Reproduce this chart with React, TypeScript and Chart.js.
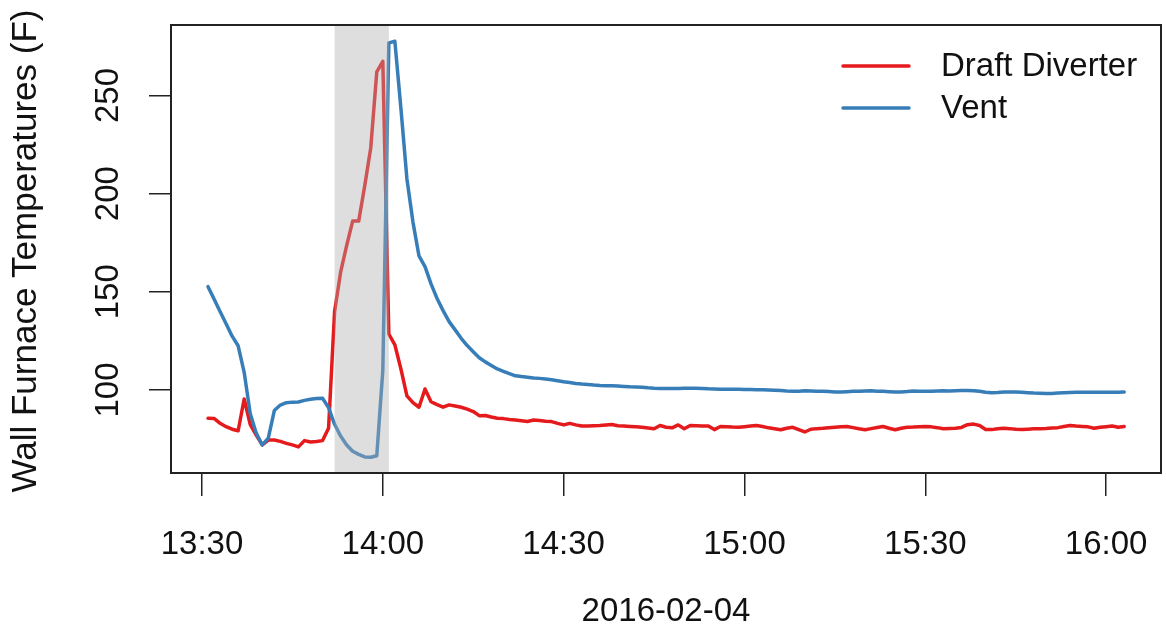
import React, { useEffect, useRef } from "react";
import { Chart, registerables } from "chart.js";

Chart.register(...registerables);

// ---------- data ----------
const seriesLabels: string[] = ["Draft Diverter", "Vent"];
const seriesColors: string[] = ["#E41A1C", "#377EB8"];
const xTickLabels: string[] = ["13:30", "14:00", "14:30", "15:00", "15:30", "16:00"];
const yTickValues: number[] = [100, 150, 200, 250];
const xTitle = "2016-02-04";
const yTitle = "Wall Furnace Temperatures (F)";
const shadeStart = "13:52";
const shadeEnd = "14:01";
const firstSample = "13:31"; // one reading per minute
const sampleStepMin = 1;

const draftDiverter: number[] = [
  85.6, 85.5, 83, 81.3, 80, 79.2, 95.4, 82.5, 77, 72,
  74.5, 74.5, 73.8, 72.8, 72, 71, 74.2, 73.5, 73.7, 74.2,
  80.5, 140, 160, 173.5, 186, 186, 204, 223.4, 262, 267.4,
  128.5, 123, 110.7, 97, 93.5, 91.2, 100.5, 94, 92.5, 91.2,
  92.4, 91.8, 91.2, 90.2, 89, 86.9, 87, 86.2, 85.6, 85.4,
  85, 84.7, 84.3, 83.9, 84.7, 84.4, 84.1, 83.9, 83, 82.2,
  83, 82.2, 81.6, 81.6, 81.8, 81.9, 82.2, 82.4, 81.8, 81.6,
  81.4, 81.2, 81, 80.6, 80.2, 81.9, 81, 80.7, 82.2, 80.2,
  81.9, 81.8, 81.7, 81.6, 79.8, 81.4, 81.3, 81.1, 81, 81.3,
  81.6, 81.9, 81.4, 80.7, 80.2, 79.7, 80.5, 81, 79.8, 78.6,
  80, 80.3, 80.5, 80.8, 81, 81.2, 81.4, 80.8, 80.2, 79.7,
  80.3, 80.9, 81.4, 80.5, 79.7, 80.5, 81, 81.1, 81.3, 81.4,
  81.2, 80.8, 80.2, 80.4, 80.5, 80.9, 82.3, 82.6, 81.9, 79.9,
  79.8, 80.2, 80.5, 80.3, 80, 79.8, 80, 80.2, 80.3, 80.4,
  80.6, 80.8, 81.4, 81.9, 81.6, 81.4, 81.2, 80.5, 81, 81.3,
  81.6, 81, 81.4,
];

const vent: number[] = [
  152.6, 146.3, 140, 133.7, 127.4, 122.5, 109, 88, 78, 72,
  75.5, 89.5, 92.3, 93.5, 93.8, 93.9, 94.7, 95.3, 95.6, 95.8,
  91, 82.5, 76.5, 72, 68.8, 67.2, 65.9, 65.7, 66.5, 110,
  276.8, 277.6, 243.5, 207.5, 185.5, 168.3, 162.8, 154, 146.6, 140.4,
  134.8, 130.6, 126.3, 122.6, 119.5, 116.4, 114.3, 112.5, 110.7, 109.5,
  108.3, 107.2, 106.8, 106.5, 106.1, 105.9, 105.6, 105.2, 104.7, 104.2,
  103.8, 103.3, 103, 102.8, 102.5, 102.3, 102.2, 102.2, 102, 101.8,
  101.6, 101.5, 101.4, 101.1, 100.9, 100.8, 100.8, 100.7, 100.8, 100.9,
  100.9, 100.9, 100.8, 100.6, 100.5, 100.4, 100.4, 100.3, 100.3, 100.2,
  100.2, 100.1, 100.1, 100, 99.9, 99.7, 99.5, 99.4, 99.4, 99.6,
  99.5, 99.4, 99.3, 99.2, 99, 98.9, 99.1, 99.3, 99.4, 99.5,
  99.6, 99.4, 99.3, 99.1, 98.9, 99, 99.2, 99.5, 99.4, 99.3,
  99.4, 99.5, 99.6, 99.5, 99.6, 99.7, 99.7, 99.6, 99.3, 98.8,
  98.6, 98.7, 98.9, 99, 98.9, 98.8, 98.6, 98.4, 98.3, 98.2,
  98.2, 98.4, 98.6, 98.7, 98.8, 98.8, 98.8, 98.8, 98.8, 98.8,
  98.8, 98.8, 98.9,
];

// ---------- helpers ----------
const FONT = "'Liberation Sans', Arial, Helvetica, sans-serif";
const TEXT = "#111";

function toMin(s: string): number {
  const [h, m] = s.split(":").map(Number);
  return h * 60 + m;
}
function fmt(m: number): string {
  const h = Math.floor(m / 60);
  const mm = Math.round(m - h * 60);
  return `${h}:${String(mm).padStart(2, "0")}`;
}

const decor = {
  id: "decor",
  afterDatasetsDraw(chart: any) {
    const { ctx, chartArea: a } = chart;
    const x = chart.scales.x;
    const x0 = x.getPixelForValue(toMin(shadeStart));
    const x1 = x.getPixelForValue(toMin(shadeEnd));
    ctx.save();
    ctx.fillStyle = "rgba(172,172,172,0.4)";
    ctx.fillRect(x0, a.top, x1 - x0, a.bottom - a.top);
    ctx.restore();
  },
  afterDraw(chart: any) {
    const { ctx, chartArea: a } = chart;
    const y = chart.scales.y;
    ctx.save();
    // box
    ctx.strokeStyle = "#222";
    ctx.lineWidth = 2;
    ctx.strokeRect(a.left, a.top, a.right - a.left, a.bottom - a.top);

    ctx.fillStyle = TEXT;
    // y tick labels (rotated, as in R)
    ctx.font = `33px ${FONT}`;
    ctx.textAlign = "center";
    ctx.textBaseline = "middle";
    for (const v of yTickValues) {
      const py = y.getPixelForValue(v);
      ctx.save();
      ctx.translate(a.left - 62, py);
      ctx.rotate(-Math.PI / 2);
      ctx.fillText(String(v), 0, 0);
      ctx.restore();
    }
    // y title
    ctx.save();
    ctx.font = `35px ${FONT}`;
    ctx.translate(26, (a.top + a.bottom) / 2 + 2);
    ctx.rotate(-Math.PI / 2);
    ctx.fillText(yTitle, 0, 0);
    ctx.restore();
    // x title
    ctx.font = `33px ${FONT}`;
    ctx.fillText(xTitle, (a.left + a.right) / 2, 612);

    // legend
    const ds = chart.data.datasets;
    ctx.textAlign = "left";
    ds.forEach((d: any, i: number) => {
      const ly = 66 + i * 42;
      ctx.strokeStyle = d.borderColor;
      ctx.lineWidth = 3.5;
      ctx.lineCap = "round";
      ctx.beginPath();
      ctx.moveTo(843, ly);
      ctx.lineTo(909, ly);
      ctx.stroke();
      ctx.fillStyle = TEXT;
      ctx.fillText(d.label, 941, ly + 1);
    });
    ctx.restore();
  },
};

export default function App() {
  const ref = useRef<HTMLCanvasElement | null>(null);

  useEffect(() => {
    document.body.style.margin = "0";
    const canvas = ref.current;
    if (!canvas) return;
    const t0 = toMin(firstSample);
    const mk = (vals: number[]) => vals.map((v, i) => ({ x: t0 + i * sampleStepMin, y: v }));

    const lineStyle = {
      borderWidth: 3.5,
      pointRadius: 0,
      tension: 0,
      borderCapStyle: "round",
      borderJoinStyle: "round",
    };

    const chart = new Chart(canvas, {
      type: "line",
      data: {
        datasets: [
          { label: seriesLabels[0], data: mk(draftDiverter), borderColor: seriesColors[0], order: 1, ...lineStyle },
          { label: seriesLabels[1], data: mk(vent), borderColor: seriesColors[1], order: 0, ...lineStyle },
        ],
      } as any,
      options: {
        animation: false,
        responsive: false,
        devicePixelRatio: 1,
        layout: { padding: { top: 25, right: 5, left: 0, bottom: 0 } },
        plugins: { legend: { display: false }, tooltip: { enabled: false } },
        scales: {
          x: {
            type: "linear",
            min: 804.86,
            max: 969.1,
            afterBuildTicks: (s: any) => {
              s.ticks = xTickLabels.map((l) => ({ value: toMin(l) }));
            },
            afterFit: (s: any) => {
              s.height = 165;
              s.paddingLeft = 0;
              s.paddingRight = 0;
            },
            ticks: {
              callback: (v: any) => fmt(Number(v)),
              font: { family: FONT, size: 33 },
              color: TEXT,
              padding: 29,
              maxRotation: 0,
              minRotation: 0,
              autoSkip: false,
            },
            grid: { drawOnChartArea: false, drawTicks: true, tickLength: 23, color: "#222", lineWidth: 1.5 },
            border: { display: false },
          },
          y: {
            type: "linear",
            min: 57.7,
            max: 285.9,
            afterBuildTicks: (s: any) => {
              s.ticks = yTickValues.map((v) => ({ value: v }));
            },
            afterFit: (s: any) => {
              s.width = 171;
              s.paddingTop = 0;
              s.paddingBottom = 0;
            },
            ticks: { display: false },
            grid: { drawOnChartArea: false, drawTicks: true, tickLength: 22, color: "#222", lineWidth: 1.5 },
            border: { display: false },
          },
        },
      } as any,
      plugins: [decor],
    });
    return () => chart.destroy();
  }, []);

  return <canvas ref={ref} width={1166} height={638} style={{ display: "block" }} />;
}
